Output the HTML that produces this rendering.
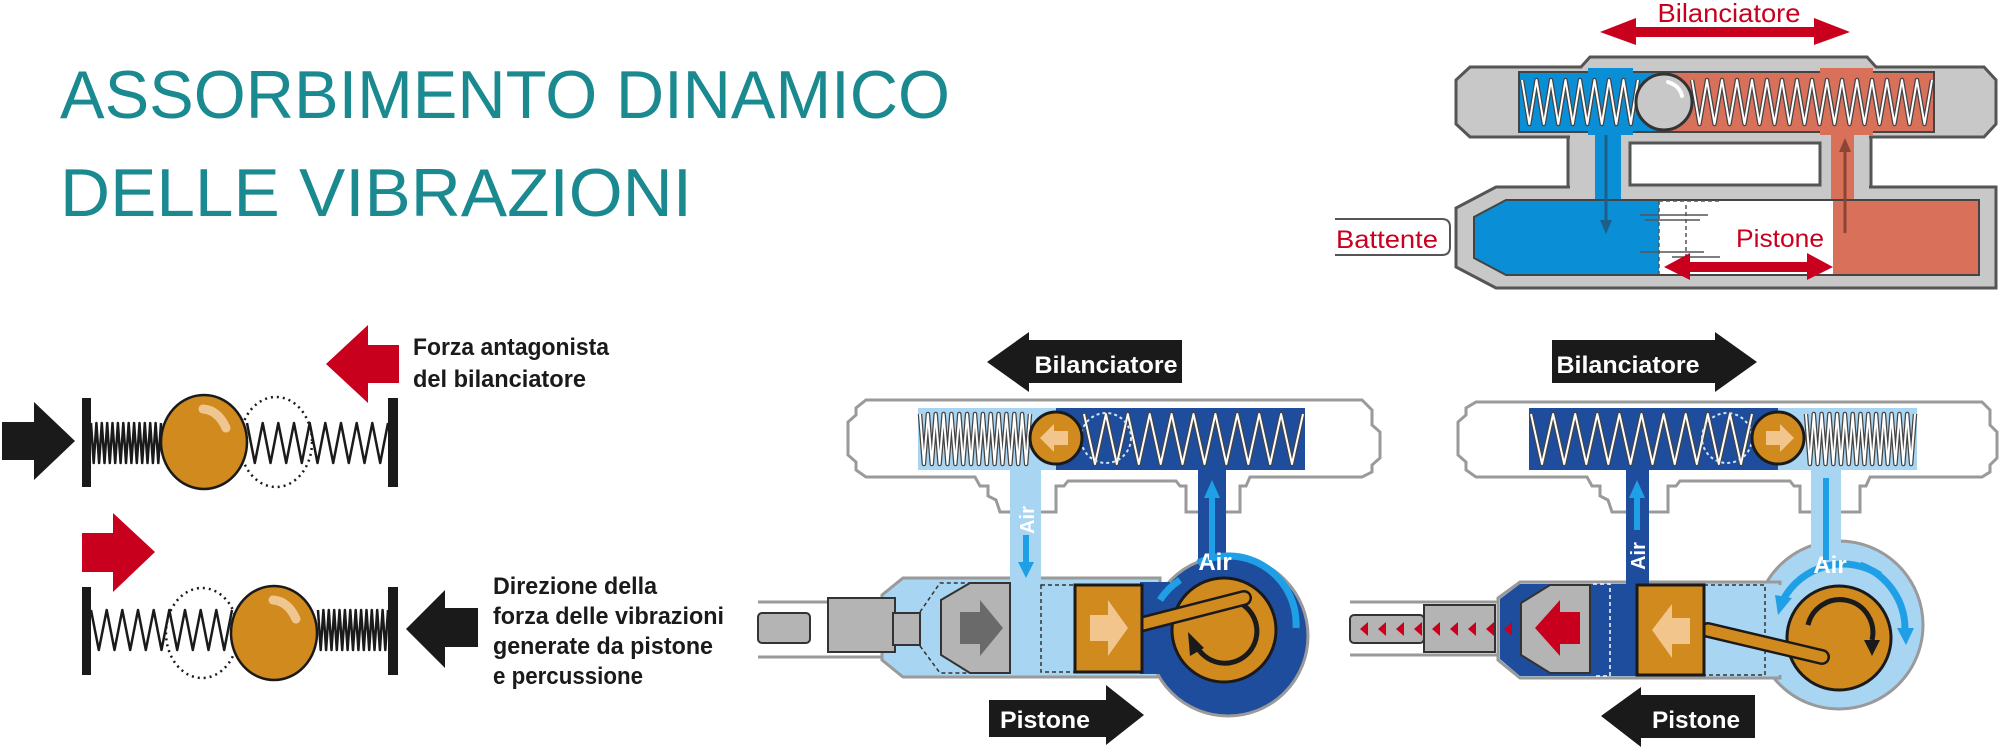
<!DOCTYPE html>
<html><head><meta charset="utf-8"><style>
html,body{margin:0;padding:0;background:#fff;}
svg{display:block;}
text{font-family:"Liberation Sans",sans-serif;}
</style></head><body>
<svg id="s" width="2000" height="748" viewBox="0 0 2000 748" xmlns="http://www.w3.org/2000/svg">
<defs>
<clipPath id="trInner"><path d="M1506,200 H1979 V275 H1506 L1474,258 V217 Z"/></clipPath>
</defs>
<rect width="2000" height="748" fill="#fff"/>

<!-- Title -->
<text x="60" y="118" font-size="68" fill="#1a8a90" textLength="890" lengthAdjust="spacingAndGlyphs">ASSORBIMENTO DINAMICO</text>
<text x="60" y="216" font-size="68" fill="#1a8a90" textLength="632" lengthAdjust="spacingAndGlyphs">DELLE VIBRAZIONI</text>

<!-- ============ TOP RIGHT DIAGRAM ============ -->
<text x="1729" y="22" font-size="26" fill="#c8001e" text-anchor="middle" textLength="143" lengthAdjust="spacingAndGlyphs">Bilanciatore</text>
<polygon points="1600,32 1636,18 1636,27 1814,27 1814,18 1850,32 1814,45 1814,37 1636,37 1636,45" fill="#c8001e"/>
<!-- gray stems region -->
<rect x="1568" y="130" width="303" height="62" fill="#c8c8c8" stroke="#555" stroke-width="3"/>
<!-- upper body -->
<path d="M1470,67 H1581 L1590,57 H1867 L1876,67 H1984 L1996,80 V124 L1984,137 H1470 L1456,124 V80 Z" fill="#c8c8c8" stroke="#555" stroke-width="3"/>
<!-- lower body -->
<path d="M1496,187 H1996 V288 H1496 L1456,267 V208 Z" fill="#c8c8c8" stroke="#555" stroke-width="3"/>
<rect x="1570" y="134" width="299" height="56" fill="#c8c8c8"/>
<rect x="1630" y="143" width="190" height="42" fill="#fff" stroke="#555" stroke-width="3"/>
<!-- inner channel -->
<rect x="1519" y="72" width="145" height="60" fill="#0a8fd6" stroke="#444" stroke-width="2"/>
<rect x="1664" y="72" width="270" height="60" fill="#d9705a" stroke="#444" stroke-width="2"/>
<rect x="1588" y="68" width="45" height="67" fill="#0a8fd6"/>
<rect x="1820" y="68" width="53" height="67" fill="#d9705a"/>
<rect x="1595" y="130" width="26" height="75" fill="#0a8fd6"/>
<rect x="1831" y="130" width="23" height="75" fill="#d9705a"/>
<g clip-path="url(#trInner)">
<rect x="1470" y="195" width="189" height="85" fill="#0a8fd6"/>
<rect x="1659" y="195" width="174" height="85" fill="#fff"/>
<rect x="1833" y="195" width="150" height="85" fill="#d9705a"/>
</g>
<path d="M1506,200 H1979 V275 H1506 L1474,258 V217 Z" fill="none" stroke="#444" stroke-width="2"/>
<line x1="1659" y1="201" x2="1659" y2="274" stroke="#555" stroke-width="1.5" stroke-dasharray="4,3"/>
<line x1="1659" y1="201" x2="1720" y2="201" stroke="#555" stroke-width="1.5" stroke-dasharray="4,3"/>
<line x1="1686" y1="205" x2="1686" y2="265" stroke="#555" stroke-width="1.5" stroke-dasharray="4,3"/>
<line x1="1640" y1="215" x2="1708" y2="215" stroke="#555" stroke-width="1.5"/>
<line x1="1645" y1="220" x2="1700" y2="220" stroke="#555" stroke-width="1.5"/>
<line x1="1640" y1="252" x2="1704" y2="252" stroke="#555" stroke-width="1.5"/>
<line x1="1672" y1="257" x2="1720" y2="257" stroke="#555" stroke-width="1.5"/>
<rect x="1722" y="204" width="111" height="70" fill="#fff"/>
<g id="trSprings"></g>
<circle cx="1664" cy="102" r="28" fill="#c8c8c8" stroke="#333" stroke-width="3"/>
<path d="M1668,82 Q1680,86 1682,96" stroke="#fff" stroke-width="4" fill="none" stroke-linecap="round"/>
<!-- flow arrows -->
<line x1="1606" y1="135" x2="1606" y2="222" stroke="#1c5f8a" stroke-width="3"/>
<polygon points="1600,220 1612,220 1606,234" fill="#1c5f8a"/>
<line x1="1845" y1="233" x2="1845" y2="150" stroke="#8a4535" stroke-width="3"/>
<polygon points="1839,152 1851,152 1845,138" fill="#8a4535"/>
<!-- Battente box -->
<path d="M1335,219 H1442 Q1450,219 1450,227 V247 Q1450,255 1442,255 H1335" fill="#fff" stroke="#555" stroke-width="2"/>
<text x="1336" y="248" font-size="25" fill="#c8001e" textLength="102" lengthAdjust="spacingAndGlyphs">Battente</text>
<text x="1780" y="247" font-size="25" fill="#c8001e" text-anchor="middle" textLength="88" lengthAdjust="spacingAndGlyphs">Pistone</text>
<polygon points="1664,267 1690,253 1690,262 1807,262 1807,253 1833,267 1807,280 1807,272 1690,272 1690,280" fill="#c8001e"/>

<!-- ============ LEFT SPRING DIAGRAMS ============ -->
<polygon points="2,422 34,422 34,402 75,441 34,480 34,460 2,460" fill="#1a1a1a"/>
<polygon points="326,364 368,325 368,345 399,345 399,383 368,383 368,403" fill="#c8001e"/>
<rect x="82" y="398" width="9" height="89" fill="#1a1a1a"/>
<rect x="388" y="398" width="10" height="89" fill="#1a1a1a"/>
<g id="lSprings"></g>
<ellipse cx="276" cy="442" rx="36" ry="45" fill="none" stroke="#1a1a1a" stroke-width="2.5" stroke-dasharray="2,4"/>
<ellipse cx="204" cy="442" rx="43" ry="47" fill="#d08a1e" stroke="#1a1a1a" stroke-width="2.5"/>
<path d="M203,409 Q218,410 226,428" stroke="#f0c690" stroke-width="9" fill="none" stroke-linecap="round"/>
<text x="413" y="355" font-size="24" font-weight="bold" fill="#1a1a1a" textLength="196" lengthAdjust="spacingAndGlyphs">Forza antagonista</text>
<text x="413" y="387" font-size="24" font-weight="bold" fill="#1a1a1a" textLength="173" lengthAdjust="spacingAndGlyphs">del bilanciatore</text>

<polygon points="82,533 113,533 113,513 155,552 113,592 113,572 82,572" fill="#c8001e"/>
<polygon points="406,629 445,590 445,608 478,608 478,647 445,647 445,668" fill="#1a1a1a"/>
<rect x="82" y="587" width="9" height="88" fill="#1a1a1a"/>
<rect x="388" y="587" width="10" height="88" fill="#1a1a1a"/>
<ellipse cx="202" cy="633" rx="36" ry="45" fill="none" stroke="#1a1a1a" stroke-width="2.5" stroke-dasharray="2,4"/>
<ellipse cx="274" cy="633" rx="43" ry="47" fill="#d08a1e" stroke="#1a1a1a" stroke-width="2.5"/>
<path d="M273,600 Q288,601 296,619" stroke="#f0c690" stroke-width="9" fill="none" stroke-linecap="round"/>
<text x="493" y="594" font-size="24" font-weight="bold" fill="#1a1a1a" textLength="164" lengthAdjust="spacingAndGlyphs">Direzione della</text>
<text x="493" y="624" font-size="24" font-weight="bold" fill="#1a1a1a" textLength="231" lengthAdjust="spacingAndGlyphs">forza delle vibrazioni</text>
<text x="493" y="654" font-size="24" font-weight="bold" fill="#1a1a1a" textLength="220" lengthAdjust="spacingAndGlyphs">generate da pistone</text>
<text x="493" y="684" font-size="24" font-weight="bold" fill="#1a1a1a" textLength="150" lengthAdjust="spacingAndGlyphs">e percussione</text>

<!-- ============ MIDDLE DIAGRAM ============ -->
<polygon points="987,362 1029,332 1029,340 1182,340 1182,383 1029,383 1029,392" fill="#1a1a1a"/>
<text x="1106" y="373" font-size="24" font-weight="bold" fill="#fff" text-anchor="middle" textLength="143" lengthAdjust="spacingAndGlyphs">Bilanciatore</text>
<!-- top body outline -->
<path d="M866,400 H1362 L1372,410 V425 L1380,432 V458 L1372,465 V472 L1362,477 H1250 L1246,486 H1240 V512 H1186 V486 H1180 L1176,481 H1068 L1064,486 H1056 V512 H1000 L996,500 L988,496 V486 H980 L975,477 H866 L856,470 V462 L848,455 V422 L856,415 V408 Z" fill="#fff" stroke="#9a9a9a" stroke-width="3"/>
<!-- tube left -->
<path d="M758,602 H890 M758,657 H890" stroke="#9a9a9a" stroke-width="3"/>
<rect x="758" y="613" width="52" height="30" rx="4" fill="#b4b4b4" stroke="#333" stroke-width="2"/>
<!-- lower body -->
<path d="M903,578 H1160 L1160,677 H903 L882,660 V595 Z" fill="#a8d5f2" stroke="#9a9a9a" stroke-width="3"/>
<circle cx="1228" cy="636" r="80" fill="#1e4d9e" stroke="#9a9a9a" stroke-width="3"/>
<rect x="1140" y="582" width="30" height="92" fill="#1e4d9e"/>
<!-- channel -->
<rect x="918" y="408" width="138" height="62" fill="#a8d5f2"/>
<rect x="1056" y="408" width="249" height="62" fill="#1e4d9e"/>
<rect x="1010" y="468" width="31" height="112" fill="#a8d5f2"/>
<rect x="1198" y="468" width="28" height="95" fill="#1e4d9e"/>
<g id="mSprings"></g>
<circle cx="1106" cy="438" r="25" fill="none" stroke="#cfe6f7" stroke-width="2" stroke-dasharray="3,3"/>
<circle cx="1056" cy="438" r="26" fill="#d08a1e" stroke="#1a1a1a" stroke-width="3"/>
<polygon points="1040,438 1054,424 1054,431 1068,431 1068,445 1054,445 1054,452" fill="#f2c58c"/>
<!-- lower internals -->
<rect x="828" y="598" width="67" height="54" fill="#b4b4b4" stroke="#333" stroke-width="2"/>
<rect x="893" y="613" width="27" height="32" fill="#b4b4b4" stroke="#333" stroke-width="2"/>
<path d="M920,612 L940,583 H970 M920,646 L940,673 H970" fill="none" stroke="#333" stroke-width="1.5" stroke-dasharray="4,3"/>
<path d="M970,583 H1010 V673 H970 L941,655 V600 Z" fill="#b4b4b4" stroke="#333" stroke-width="2"/>
<polygon points="960,612 980,612 980,600 1003,628 980,656 980,644 960,644" fill="#6a6a6a"/>
<rect x="1041" y="585" width="34" height="87" fill="none" stroke="#333" stroke-width="1.5" stroke-dasharray="4,3"/>
<path d="M1198,563 A68,68 0 0 1 1296,628" fill="none" stroke="#1fa0e6" stroke-width="7"/>
<path d="M1160,600 A68,68 0 0 1 1180,580" fill="none" stroke="#1fa0e6" stroke-width="7"/>
<circle cx="1224" cy="630" r="52" fill="#d08a1e" stroke="#1a1a1a" stroke-width="3"/>
<path d="M1240,603 A32,32 0 1 1 1196,645" fill="none" stroke="#1a1a1a" stroke-width="5"/>
<polygon points="1188,632 1204,648 1190,656" fill="#1a1a1a"/>
<line x1="1135" y1="626" x2="1244" y2="598" stroke="#1a1a1a" stroke-width="16" stroke-linecap="round"/>
<line x1="1135" y1="626" x2="1244" y2="598" stroke="#d08a1e" stroke-width="11" stroke-linecap="round"/>
<rect x="1075" y="585" width="67" height="87" fill="#d08a1e" stroke="#1a1a1a" stroke-width="3"/>
<polygon points="1090,615 1108,615 1108,600 1128,628 1108,656 1108,641 1090,641" fill="#f2c58c"/>
<text x="1215" y="570" font-size="24" font-weight="bold" fill="#fff" text-anchor="middle">Air</text>
<text transform="translate(1034,520) rotate(-90)" font-size="20" font-weight="bold" fill="#fff" text-anchor="middle">Air</text>
<line x1="1026" y1="535" x2="1026" y2="565" stroke="#1fa0e6" stroke-width="6"/>
<polygon points="1018,562 1034,562 1026,578" fill="#1fa0e6"/>
<line x1="1212" y1="560" x2="1212" y2="495" stroke="#1fa0e6" stroke-width="6"/>
<polygon points="1204,498 1220,498 1212,480" fill="#1fa0e6"/>
<polygon points="989,700 1106,700 1106,685 1144,715 1106,745 1106,737 989,737" fill="#1a1a1a"/>
<text x="1045" y="728" font-size="24" font-weight="bold" fill="#fff" text-anchor="middle" textLength="90" lengthAdjust="spacingAndGlyphs">Pistone</text>

<!-- ============ RIGHT DIAGRAM ============ -->
<polygon points="1552,340 1715,340 1715,332 1757,362 1715,392 1715,383 1552,383" fill="#1a1a1a"/>
<text x="1628" y="373" font-size="24" font-weight="bold" fill="#fff" text-anchor="middle" textLength="143" lengthAdjust="spacingAndGlyphs">Bilanciatore</text>
<path d="M1476,402 H1982 L1990,410 V425 L1997,432 V458 L1990,465 V472 L1982,477 H1870 L1866,486 H1860 V512 H1800 V486 H1794 L1790,481 H1680 L1676,486 H1668 V512 H1612 L1608,500 L1600,496 V486 H1592 L1587,477 H1476 L1466,470 V462 L1458,455 V422 L1466,415 V408 Z" fill="#fff" stroke="#9a9a9a" stroke-width="3"/>
<path d="M1350,602 H1500 M1350,655 H1500" stroke="#9a9a9a" stroke-width="3"/>
<rect x="1350" y="615" width="74" height="28" rx="4" fill="#b4b4b4" stroke="#333" stroke-width="2"/>
<rect x="1424" y="605" width="71" height="47" fill="#b4b4b4" stroke="#333" stroke-width="2"/>
<circle cx="1839" cy="625" r="84" fill="#a8d5f2" stroke="#9a9a9a" stroke-width="3"/>
<path d="M1520,582 H1780 V678 H1520 L1498,660 V598 Z" fill="#a8d5f2" stroke="#9a9a9a" stroke-width="3"/>
<rect x="1760" y="585" width="40" height="90" fill="#a8d5f2"/>
<path d="M1520,584 H1593 V676 H1520 L1500,659 V599 Z" fill="#1e4d9e"/>
<rect x="1593" y="584" width="44" height="92" fill="#1e4d9e"/>
<rect x="1529" y="408" width="249" height="62" fill="#1e4d9e"/>
<rect x="1778" y="408" width="139" height="62" fill="#a8d5f2"/>
<rect x="1626" y="468" width="23" height="118" fill="#1e4d9e"/>
<rect x="1811" y="468" width="30" height="90" fill="#a8d5f2"/>
<g id="rSprings"></g>
<circle cx="1727" cy="438" r="25" fill="none" stroke="#cfe6f7" stroke-width="2" stroke-dasharray="3,3"/>
<circle cx="1778" cy="438" r="26" fill="#d08a1e" stroke="#1a1a1a" stroke-width="3"/>
<polygon points="1794,438 1780,424 1780,431 1766,431 1766,445 1780,445 1780,452" fill="#f2c58c"/>
<g fill="#c8001e">
<polygon points="1360,629 1368,622 1368,636"/><polygon points="1378,629 1386,622 1386,636"/><polygon points="1396,629 1404,622 1404,636"/><polygon points="1414,629 1422,622 1422,636"/>
<polygon points="1432,629 1440,622 1440,636"/><polygon points="1450,629 1458,622 1458,636"/><polygon points="1468,629 1476,622 1476,636"/><polygon points="1486,629 1494,622 1494,636"/><polygon points="1504,629 1512,622 1512,636"/>
</g>
<path d="M1550,585 H1590 V673 H1550 L1521,655 V603 Z" fill="#b4b4b4" stroke="#333" stroke-width="2"/>
<polygon points="1535,628 1560,600 1560,612 1580,612 1580,644 1560,644 1560,656" fill="#c8001e"/>
<path d="M1593,584 H1610 V676 H1593" fill="none" stroke="#fff" stroke-width="1.5" stroke-dasharray="4,3"/>
<rect x="1704" y="585" width="61" height="90" fill="none" stroke="#333" stroke-width="1.5" stroke-dasharray="4,3"/>
<path d="M1783,600 A68,68 0 0 1 1880,575" fill="none" stroke="#1fa0e6" stroke-width="7"/>
<polygon points="1775,595 1792,598 1778,615" fill="#1fa0e6"/>
<path d="M1860,565 A68,68 0 0 1 1905,630" fill="none" stroke="#1fa0e6" stroke-width="7"/>
<polygon points="1897,628 1914,628 1906,645" fill="#1fa0e6"/>
<circle cx="1839" cy="638" r="52" fill="#d08a1e" stroke="#1a1a1a" stroke-width="3"/>
<path d="M1808,625 A32,32 0 1 1 1872,640" fill="none" stroke="#1a1a1a" stroke-width="5"/>
<polygon points="1864,640 1880,640 1872,656" fill="#1a1a1a"/>
<line x1="1708" y1="630" x2="1822" y2="657" stroke="#1a1a1a" stroke-width="16" stroke-linecap="round"/>
<line x1="1708" y1="630" x2="1822" y2="657" stroke="#d08a1e" stroke-width="11" stroke-linecap="round"/>
<rect x="1637" y="585" width="67" height="90" fill="#d08a1e" stroke="#1a1a1a" stroke-width="3"/>
<polygon points="1652,630 1672,604 1672,618 1690,618 1690,644 1672,644 1672,658" fill="#f2c58c"/>
<text x="1830" y="573" font-size="24" font-weight="bold" fill="#fff" text-anchor="middle">Air</text>
<text transform="translate(1645,556) rotate(-90)" font-size="20" font-weight="bold" fill="#fff" text-anchor="middle">Air</text>
<line x1="1637" y1="530" x2="1637" y2="495" stroke="#1fa0e6" stroke-width="6"/>
<polygon points="1629,498 1645,498 1637,480" fill="#1fa0e6"/>
<line x1="1826" y1="478" x2="1826" y2="560" stroke="#1fa0e6" stroke-width="6"/>
<polygon points="1601,716 1641,687 1641,695 1755,695 1755,738 1641,738 1641,747" fill="#1a1a1a"/>
<text x="1696" y="728" font-size="24" font-weight="bold" fill="#fff" text-anchor="middle" textLength="88" lengthAdjust="spacingAndGlyphs">Pistone</text>
</svg>
<script>
(function(){
var NS="http://www.w3.org/2000/svg";
function spring(g,x1,x2,y1,y2,n,layers){
  var pts=[];
  for(var i=0;i<=2*n;i++){pts.push((x1+(x2-x1)*i/(2*n)).toFixed(1)+","+(i%2?y2:y1));}
  layers.forEach(function(l){
    var p=document.createElementNS(NS,"polyline");
    p.setAttribute("points",pts.join(" "));
    p.setAttribute("fill","none");p.setAttribute("stroke",l[0]);p.setAttribute("stroke-width",l[1]);
    p.setAttribute("stroke-linejoin","round");
    g.appendChild(p);
  });
}
var W=[["#444",4.5],["#fff",2]];
var tr=document.getElementById("trSprings");
spring(tr,1522,1638,80,124,8,W);
spring(tr,1692,1932,80,124,16,W);
var B=[["#1a1a1a",2.5]];
var l=document.getElementById("lSprings");
spring(l,91,161,423,463,13,B);
spring(l,247,388,423,463,9,B);
spring(l,91,232,610,650,9,B);
spring(l,318,388,610,650,13,B);
var m=document.getElementById("mSprings");
spring(m,920,1030,414,464,14,W);
spring(m,1084,1303,414,464,10,W);
var r=document.getElementById("rSprings");
spring(r,1531,1752,414,464,10,W);
spring(r,1806,1915,414,464,14,W);
})();
</script>
</body></html>
